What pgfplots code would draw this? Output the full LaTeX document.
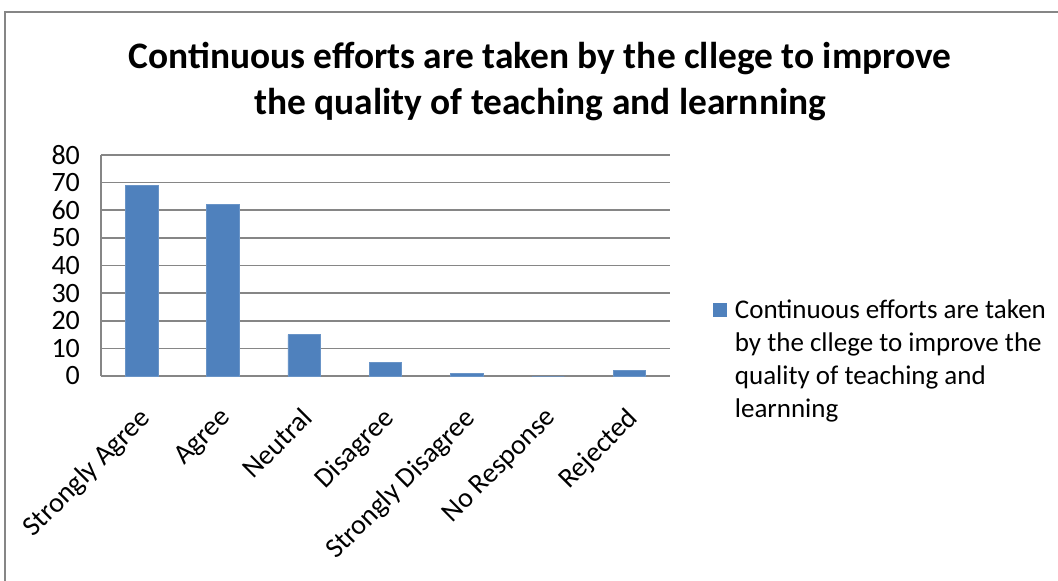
\documentclass[border=0pt]{standalone}
\usepackage{pgfplots}
\pgfplotsset{compat=1.18}
\usepackage{fontspec}
\setmainfont{Carlito}
\definecolor{barblue}{HTML}{4F81BD}
\definecolor{gridgray}{HTML}{868686}
\begin{document}
\begin{tikzpicture}
\useasboundingbox (0,0) rectangle (529pt,290pt);
\draw[gridgray, line width=0.8pt] (2.5pt,-10pt) -- (2.5pt,284pt) -- (540pt,284pt);
\node[font=\fontsize{18.7}{23}\selectfont\bfseries, align=center] at (270pt,249pt) {Continuous efforts are taken by the cllege to improve\\the quality of teaching and learnning};
\begin{axis}[
 at={(50.5pt,102pt)}, anchor=south west,
 scale only axis, width=284.5pt, height=110.5pt,
 ymin=0, ymax=80, ytick={0,10,...,80},
 xmin=-0.5, xmax=6.5, xtick={0,...,6},
 xticklabels={Strongly Agree,Agree,Neutral,Disagree,Strongly Disagree,No Response,Rejected},
 x tick label style={xshift=-2pt, yshift=-10pt, rotate=45, anchor=north east, font=\fontsize{14}{16}\selectfont},
 y tick label style={font=\fontsize{14}{16}\selectfont, xshift=-7pt},
 /pgf/number format/assume math mode=true,
 ymajorgrids, grid style={gridgray, line width=0.8pt},
 axis x line*=bottom, axis y line*=left,
 axis line style={gridgray, line width=0.8pt, -},
 major tick length=0pt,
 ybar, bar width=16.3pt,
 legend style={at={(axis description cs:1.074,0.366)}, anchor=north west, draw=none, fill=none, inner sep=0pt, font=\fontsize{13.5}{16.5}\selectfont, cells={align=left}},
 legend cell align=left,
 legend image code/.code={\draw[fill=barblue, draw=barblue] (0pt,21.5pt) rectangle (6.6pt,28.1pt); \path (8.8pt,24.8pt);},
]
\addplot[fill=barblue, draw=barblue!85!white] coordinates {(0,69)(1,62)(2,15)(3,5)(4,1)(5,0)(6,2)};
\addlegendentry{Continuous efforts are taken\\by the cllege to improve the\\quality of teaching and\\learnning}
\end{axis}
\end{tikzpicture}
\end{document}
